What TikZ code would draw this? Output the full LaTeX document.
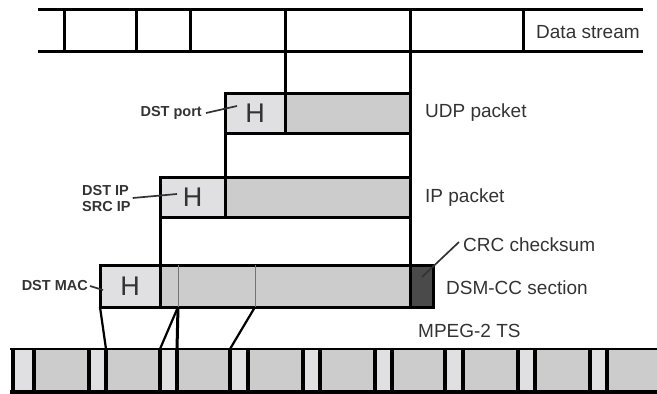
\documentclass[tikz,border=0pt]{standalone}
\usepackage{fontspec}
\setmainfont{Liberation Sans}
\definecolor{lightH}{HTML}{E0E0E2}
\definecolor{bodyG}{HTML}{CCCCCC}
\definecolor{crcG}{HTML}{4A4A4A}
\definecolor{txt}{HTML}{333333}
\begin{document}
\begin{tikzpicture}[x=1pt,y=-1pt,
  box/.style={anchor=north west,draw=black,line width=3pt,inner sep=0pt,outer sep=0pt,minimum height=40pt},
  hbox/.style={box,fill=lightH,text=txt,font=\fontsize{27}{27}\selectfont},
  bodybox/.style={box,fill=bodyG},
  crcbox/.style={box,fill=crcG},
  lbl/.style={anchor=west,text=txt,inner sep=0pt,font=\fontsize{19}{21}\selectfont},
  small/.style={text=txt,inner sep=0pt,font=\fontsize{14.5}{16}\selectfont\bfseries},
  link/.style={line width=3pt},
  leader/.style={line width=1.7pt,draw=txt},
  slant/.style={line width=2.2pt},
  tsline/.style={line width=4pt}]
\useasboundingbox (0,0) rectangle (657,394);

% ---------- data stream ----------
\coordinate (dsTL) at (38,9);
\coordinate (dsTR) at (643,9);
\coordinate (dsBL) at (38,51);
\coordinate (dsBR) at (643,51);
\draw[link] (dsTL) -- (dsTR);
\draw[link] (dsBL) -- (dsBR);
\foreach \x/\n in {64/a,136/b,190/c,285/d,410/e,523/f}{
  \coordinate (dsT\n) at (\x,9);
  \coordinate (dsB\n) at (\x,51);
  \draw[link] (dsT\n) -- (dsB\n);
}
\node[lbl] (dslbl) at (536,32) {Data stream};

% ---------- UDP packet ----------
\node[hbox,minimum width=60pt] (udpH) at (225,93) {H};
\node[bodybox,minimum width=125pt] (udpB) at (285,93) {};
\node[lbl] (udplbl) at (425,113) {UDP packet};
\node[small,anchor=east] (dstport) at (202,113) {DST port};

% ---------- IP packet ----------
\node[hbox,minimum width=65pt] (ipH) at (160,177) {H};
\node[bodybox,minimum width=185pt] (ipB) at (225,177) {};
\node[lbl] (iplbl) at (425,198) {IP packet};
\node[small,align=left,anchor=west] (dstip) at (82,199) {DST IP\\SRC IP};

% ---------- DSM-CC section ----------
\node[hbox,minimum width=60pt,minimum height=42pt] (dsmH) at (100,265) {H};
\node[bodybox,minimum width=250pt,minimum height=42pt] (dsmB) at (160,265) {};
\node[crcbox,minimum width=23pt,minimum height=42pt] (crc) at (410,265) {};
\coordinate (dA) at (178,265);
\coordinate (dAb) at (178,307);
\coordinate (dB) at (255,265);
\coordinate (dBb) at (255,307);
\draw[line width=0.8pt,draw=black!55] (dA) -- (dAb);
\draw[line width=0.8pt,draw=black!55] (dB) -- (dBb);
\node[lbl] (dsmlbl) at (446,288) {DSM-CC section};
\node[lbl] (crclbl) at (463,245) {CRC checksum};
\node[small,anchor=east] (dstmac) at (88,286) {DST MAC};

% ---------- MPEG-2 TS ----------
\fill[bodyG] (13,349) rectangle (657,392);
\foreach \l/\r/\i in {13/34/0,89/106/1,160/177/2,230/248/3,303/320/4,375/392/5,445/463/6,518/535/7,590/607/8}{
  \fill[lightH] (\l,349) rectangle (\r,392);
  \coordinate (tsL\i) at (\l,349);
  \coordinate (tsR\i) at (\r,349);
  \coordinate (tsLb\i) at (\l,392);
  \coordinate (tsRb\i) at (\r,392);
  \draw[tsline] (tsL\i) -- (tsLb\i);
  \draw[tsline] (tsR\i) -- (tsRb\i);
}
\coordinate (tsTL) at (10,349);
\coordinate (tsTR) at (657,349);
\coordinate (tsBL) at (10,392);
\coordinate (tsBR) at (657,392);
\draw[line width=2.8pt] (tsTL) -- (tsTR);
\draw[line width=3.2pt] (tsBL) -- (tsBR);
\node[lbl] (tslbl) at (418,331) {MPEG-2 TS};

% ---------- connectors ----------
\draw[link] (dsBd) -- (udpH.north east);
\draw[link] (dsBe) -- (udpB.north east);
\draw[link] (udpH.south west) -- (ipH.north east);
\draw[link] (udpB.south east) -- (ipB.north east);
\draw[link] (ipH.south west) -- (dsmH.north east);
\draw[link] (ipB.south east) -- (dsmB.north east);

\draw[slant] (dsmH.south west) -- (tsR1);
\draw[slant] (dAb) -- (tsL2);
\draw[link] (dAb) -- (tsR2);
\draw[slant] (dBb) -- (tsL3);

% ---------- leaders ----------
\coordinate (lpPort) at (237,106);
\coordinate (lpIP) at (177,194);
\coordinate (lpMAC) at (103,290);
\coordinate (lpCRC) at (422,277);
\draw[leader] ([xshift=4pt]dstport.east) -- (lpPort);
\draw[leader] ([xshift=2pt,yshift=1pt]dstip.east) -- (lpIP);
\draw[leader] ([xshift=2pt]dstmac.east) -- (lpMAC);
\draw[leader] ([xshift=-4pt,yshift=3pt]crclbl.west) -- (lpCRC);
\end{tikzpicture}
\end{document}
